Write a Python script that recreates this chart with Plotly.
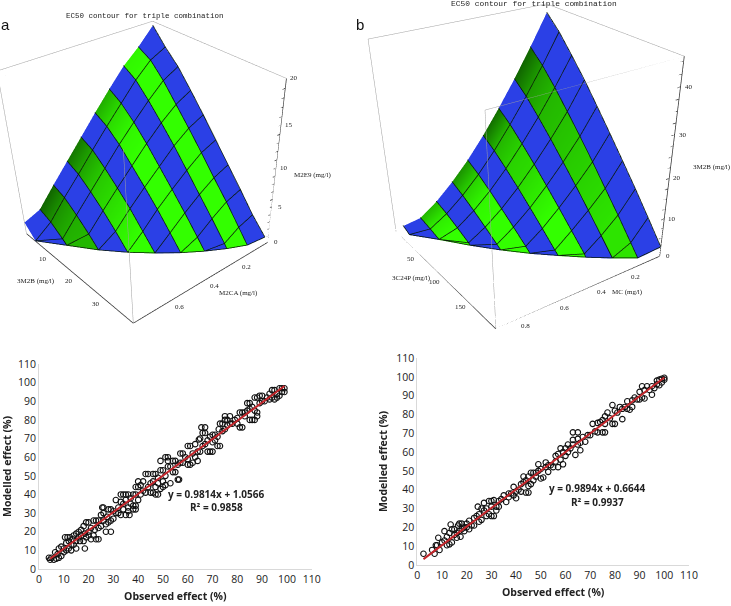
import plotly.graph_objects as go

W, H = 731, 606
BLUE = "#2b40e6"
GREEN_DARK = "#0b4a00"
GREEN = "#33ff00"
BOX = "#a0a0a0"
AXIS = "#333333"

a_x_levels = [0, 0.0889, 0.1778, 0.2667, 0.3556, 0.4444, 0.5333, 0.6222, 0.7111, 0.8]
a_y_levels = [0, 4.33, 8.67, 13, 17.33, 21.67, 26, 30.33, 34.67, 39]
a_arc_y = [39, 37.7, 35.5, 32.8, 29.6, 25.8, 21.5, 16.4, 10.2, 4]
a_z = [
    [19.5, 17.6, 16.0, 13.9, 11.7, 9.4, 7.1, 4.8, 2.4, 0.4],
    [17.6, 16.7, 15.0, 12.9, 10.8, 8.6, 6.3, 4.1, 1.7, 0],
    [16.0, 15.0, 13.3, 11.4, 9.4, 7.2, 5.0, 2.8, 0.5, 0],
    [13.9, 12.9, 11.4, 9.6, 7.6, 5.6, 3.5, 1.3, 0, 0],
    [11.7, 10.8, 9.4, 7.6, 5.8, 3.9, 1.8, 0, 0, 0],
    [9.4, 8.6, 7.2, 5.6, 3.9, 1.9, 0, 0, 0, 0],
    [7.1, 6.3, 5.0, 3.5, 1.8, 0, 0, 0, 0, 0],
    [4.8, 4.1, 2.8, 1.3, 0, 0, 0, 0, 0, 0],
    [2.4, 1.7, 0.5, 0, 0, 0, 0, 0, 0, 0],
    [1.6, 0, 0, 0, 0, 0, 0, 0, 0, 0],
]
a_shade = {
    1: [0.95, 1, 1, 1, 1, 1, 1, 1, 1, 1],
    3: [0.55, 0.8, 0.95, 1, 1, 1, 1, 1, 1, 1],
    5: [0.25, 0.5, 0.7, 0.8, 0.9, 1, 1, 1, 1, 1],
    7: [0.15, 0.4, 0.55, 0.6, 0.6, 0.6, 0.6, 0.6, 0.6, 0.6],
}
a_x_ticks, a_y_ticks, a_z_ticks = [0.2, 0.4, 0.6], [10, 20, 30], [0, 5, 10, 15, 20]
b_x_levels = [0, 0.0956, 0.1911, 0.2867, 0.3822, 0.4778, 0.5733, 0.6689, 0.7644, 0.86]
b_y_levels = [0, 22.2, 44.4, 66.7, 88.9, 111.1, 133.3, 155.6, 177.8, 200]
b_arc_y = [200, 190, 175, 158, 139, 119, 96, 70, 41, 14]
b_z = [
    [44, 40.7, 36.6, 32.3, 27.6, 22.8, 17.9, 12.9, 7.7, 2.4],
    [36.9, 33.8, 30, 25.8, 21.5, 17, 12.3, 7.6, 2.7, 0],
    [30.2, 27.4, 23.9, 20.2, 16.3, 12.3, 8.1, 3.8, 0, 0],
    [24, 21.5, 18.4, 15.1, 11.6, 8, 4.3, 0.6, 0, 0],
    [18.2, 16, 13.3, 10.4, 7.3, 4.1, 0.8, 0, 0, 0],
    [13, 11.1, 8.8, 6.3, 3.7, 1, 0, 0, 0, 0],
    [8.5, 6.9, 5, 2.9, 0.7, 0, 0, 0, 0, 0],
    [4.6, 3.4, 1.9, 0.3, 0, 0, 0, 0, 0, 0],
    [1.6, 0.8, 0, 0, 0, 0, 0, 0, 0, 0],
    [1, 0, 0, 0, 0, 0, 0, 0, 0, 0],
]
b_shade = {
    1: [0.15, 0.45, 0.6, 0.65, 0.7, 0.75, 0.8, 0.85, 0.85, 0.85],
    3: [0.2, 0.6, 0.75, 0.8, 0.9, 1, 1, 1, 1, 1],
    5: [0.4, 0.75, 0.95, 1, 1, 1, 1, 1, 1, 1],
    7: [0.6, 0.9, 1, 1, 1, 1, 1, 1, 1, 1],
}
b_x_ticks, b_y_ticks, b_z_ticks = [0.2, 0.4, 0.6, 0.8], [50, 100, 150], [0, 10, 20, 30, 40]
tick_vals = list(range(0, 111, 10))
a_points = [
    (4,6),(4.5,5),(5,6),(6,5),(6.5,9),(7,5.5),(7.5,8),(8,6),(8,11),(9,7),(9,12),(10,11),(10,9),
    (10.5,17),(11,10),(11,14),(11.5,17),(12,15),(12,11),(12.5,17),(13,10),(13,13),(13.5,16),(14,18),(14,13),
    (15,11),(15,15),(15,19),(16,20),(16,17),(16.5,15),(17,18),(17,21),(18,15),(18,23),(18.5,11),(18.5,19),
    (19,25),(19,17),(20,25),(20,20),(20,18),(21,22),(21,16),(22,26),(22,18),(22.5,21),(23,26),(23,16),
    (24,22),(24,26),(24,16),(25,29),(25,23),(25.5,33),(26,33),(26,26),(26,30),(27,20),(27,24),(27.5,28),
    (28,25),(28,32),(29,20),(29,26),(29,32),(30,27),(30,31),(31,37),(31,30),(32,33),(32,30),(33,36),(33,40),
    (33,29),(34,40),(34,35),(34,32),(35,29),(35,37),(35,40),(36,40),(36,33),(36,31),(36.5,29),(37,38),(37,35),
    (38,34),(38,40),(38,32),(39,40),(39,34),(39,44),(39,32),(40,37),(40,44),(40,47),(41,40),(41,45),(42,47),
    (42,42),(43,51),(43,41),(44,51),(44,44),(45,41),(45,46),(46,51),(46,47),(46,41),(47,51),(47,40),(47,44),
    (48,40),(48,46),(48,49),(49,43),(49,53),(49,58),(50,44),(50,53),(50,47),(51,60),(51,50),(51,45),(52,60),
    (52,58),(52,55),(53,55),(53,46),(54,58),(54,52),(55,58),(55,52),(56,48),(56.5,48),(56,56),(57,62),(57,57),
    (58,62),(58,57),(59,60),(60,56),(60,66),(60,59),(61,66),(61,56),(62,62),(62,57),(63,67),(63,60),(64,58),
    (64,63),(64.5,69.5),(65,70),(65,63),(65.5,76),(66,66),(66,73),(67,76),(67,73),(67,67),(68,63),(68,69),
    (69,63),(69,71),(70,72),(70,63),(70,68),(71,72),(71,69),(72,66),(72,71),(72.5,75),(73,66),(73,78),(74,78),
    (74,74),(75,75),(75,82),(75,80),(76,80),(76,77),(77,82),(77,78),(78,78),(79,80),(80,81),(80,78),(81,84),
    (81,76),(82,76),(82,84),(83,84),(83,82),(84,89),(84,85),(85,89),(85,80),(85,86),(86,80),(86,87),(87,92),
    (87,80),(87,85),(88,82),(88,92),(88,84),(89,93),(89,89),(90,93),(90,90),(91,90),(92,92),(93,94),(93,91),
    (94,96),(94,92),(95,96),(95,91),(96,94),(96,92),(97,97),(97,93),(98,97),(98,95),(99,97),(99,95),
]
b_points = [
    (2.5,6),(6,8),(7,6),(7.5,10.5),(8,10.5),(8.5,14.5),(9,8),(10,12),(11,13),(11,18),(12,10.5),(12,15),(13,17),
    (13,11),(13.5,21.5),(14,12),(14,19),(15,16),(15,19),(16,14.5),(16,17),(16.5,21),(17,22),(17,18),(17.5,15),
    (18,22),(18,19),(19,20),(19,18),(20,22),(20,20),(21,19),(21,23.5),(22,21),(23,21),(23,25),(24,26),(24.5,31),
    (25,27),(25,23),(26,30),(26,24),(27,33),(27,29),(28,30),(28,26),(29,34),(29,27),(30,34),(30,31),(30,26),
    (31,34.5),(31,26),(32,31),(32,29),(33,34),(33,31),(34,35),(35,37),(36,33.5),(37,38),(37,36),(38,38),(39,41.5),
    (39,37),(40,35.5),(40,39),(41,40),(42,43),(42,39),(43,47),(43,44),(44,45),(44,38.5),(45,38.5),(45,42),(45,47),
    (46,49),(46,43),(47,49),(47,45),(48,49),(48,47),(49,53.5),(49,50),(50,46),(50,51),(51,46.5),(52,54.5),(52,52),
    (53,49.5),(53,53),(54,53),(55,52),(56,58),(56,55),(57,59),(57,52),(58,62),(58,56),(59,53.5),(59,60),(60,62),
    (60,58),(61,64),(61,60),(62,62),(63,70.5),(63,66.5),(63,64),(64,58.5),(65,70.5),(65,67),(65,64),(66,61),(66,65),
    (67,68),(68,65.5),(69,69),(70,69),(71,75),(72,71),(73,75.5),(73,70.5),(74,76),(75,70.5),(75,77),(76,70.5),(76,75),
    (76,79),(77,81),(78,78),(79,85),(79,75),(80,75),(80,82),(81,81),(82,84),(83,77.5),(83,83),(84,84),(85,83),(85,87),
    (86,82.5),(87,87.5),(87,84),(88,89),(89,88),(90,92),(90,88),(91,95),(91,89),(92,93),(92,88.5),(93,95),(94,93),
    (95,90.5),(95,95),(96,94),(97,98),(97,96),(98,95.5),(98,98.5),(99,97),(99,99),(100,98.5),(100,99.5),
]
a_trend_x, a_trend_y = [4.5, 99], [5.5, 98.2]
b_trend_x, b_trend_y = [2.5, 100], [3.1, 99.6]

fig = go.Figure()


def add_surface(scene, xs, ys, arc, zz, shade, lift):
    grid_y = [[min(y, arc[i]) for y in ys] for i in range(len(xs))]
    for band in range(len(xs) - 1):
        is_green = band in shade
        col = shade[band] if is_green else [0] * len(ys)
        fig.add_trace(go.Surface(
            scene=scene,
            x=[[xs[band]] * len(ys), [xs[band + 1]] * len(ys)],
            y=[grid_y[band], grid_y[band + 1]],
            z=[zz[band], zz[band + 1]],
            surfacecolor=[col, col], cmin=0, cmax=1,
            colorscale=[[0, GREEN_DARK], [1, GREEN]] if is_green else [[0, BLUE], [1, BLUE]],
            showscale=False, hoverinfo="skip",
            lighting=dict(ambient=1, diffuse=0, specular=0, fresnel=0, roughness=1),
        ))
    lx, ly, lz = [], [], []
    for i in range(len(xs)):
        lx += [xs[i]] * len(ys) + [None]
        ly += grid_y[i] + [None]
        lz += [v + lift for v in zz[i]] + [None]
    for j in range(1, len(ys)):
        for i in range(len(xs)):
            lx.append(xs[i]); ly.append(grid_y[i][j]); lz.append(zz[i][j] + lift)
        lx.append(None); ly.append(None); lz.append(None)
    fig.add_trace(go.Scatter3d(scene=scene, x=lx, y=ly, z=lz, mode="lines",
                               line=dict(color="#0a1a0a", width=1.5), hoverinfo="skip", showlegend=False))


def segs(scene, pairs, color, width):
    lx, ly, lz = [], [], []
    for p, q in pairs:
        lx += [p[0], q[0], None]
        ly += [p[1], q[1], None]
        lz += [p[2], q[2], None]
    fig.add_trace(go.Scatter3d(scene=scene, x=lx, y=ly, z=lz, mode="lines",
                               line=dict(color=color, width=width), hoverinfo="skip", showlegend=False))


def add_box(scene, X, Y, Z, xminor, yminor, zminor):
    segs(scene, [((0, 0, Z), (X, 0, Z)), ((0, 0, Z), (0, Y, Z)), ((X, Y, Z), (X, 0, Z)), ((X, Y, Z), (0, Y, Z)),
                 ((X, 0, 0), (X, 0, Z)), ((X, Y, 0), (X, Y, Z))], BOX, 1)
    axes = [((X, 0, 0), (X, Y, 0)), ((0, Y, 0), (X, Y, 0)), ((0, Y, 0), (0, Y, Z))]
    i = 1
    while i * xminor < X:
        v = i * xminor
        axes.append(((v, Y, 0), (v, Y * 1.02, 0)))
        i += 1
    i = 1
    while i * yminor < Y:
        v = i * yminor
        axes.append(((X, v, 0), (X * 1.02, v, 0)))
        i += 1
    i = 1
    while i * zminor < Z:
        v = i * zminor
        axes.append(((0, Y, v), (X * 0.02, Y, v)))
        i += 1
    segs(scene, axes, AXIS, 1.5)


add_surface("scene", a_x_levels, a_y_levels, a_arc_y, a_z, a_shade, 0.08)
add_box("scene", 0.8, 40, 20, 0.05, 2.5, 1)
add_surface("scene2", b_x_levels, b_y_levels, b_arc_y, b_z, b_shade, 0.18)
add_box("scene2", 0.9, 200, 46, 0.05, 12.5, 2.5)


def add_scatter(points, tx, ty, xa, ya):
    fig.add_trace(go.Scatter(x=[p[0] for p in points], y=[p[1] for p in points], xaxis=xa, yaxis=ya,
                             mode="markers", showlegend=False,
                             marker=dict(symbol="circle-open", size=5.5, color="#111", line=dict(width=1.1))))
    fig.add_trace(go.Scatter(x=tx, y=ty, xaxis=xa, yaxis=ya, mode="lines", showlegend=False,
                             line=dict(color="#c4262b", width=2)))


add_scatter(a_points, a_trend_x, a_trend_y, "x", "y")
add_scatter(b_points, b_trend_x, b_trend_y, "x2", "y2")


def axis3d(rng):
    return dict(range=rng, title=dict(text=""), showgrid=False, zeroline=False, showbackground=False,
                showline=False, ticks="", showticklabels=False, showspikes=False)


def tick_notes(X, Y, xt, yt, zt):
    font = dict(family="Liberation Serif", size=7, color="#222")
    out = []
    for v in xt:
        out.append(dict(x=v, y=Y, z=0, text=str(v), showarrow=False, xshift=9, yshift=-6, font=font))
    for v in yt:
        out.append(dict(x=X, y=v, z=0, text=str(v), showarrow=False, xshift=-7, yshift=-6, font=font))
    for v in zt:
        out.append(dict(x=0, y=Y, z=v, text=str(v), showarrow=False, xshift=8, yshift=0, font=font))
    return out


def scene(dom, eye, center, up, xa, ya, za, aspect_z, notes):
    return dict(domain=dict(x=[dom[0] / W, dom[1] / W], y=[1 - dom[3] / H, 1 - dom[2] / H]),
                bgcolor="rgba(0,0,0,0)", xaxis=xa, yaxis=ya, zaxis=za, annotations=notes,
                aspectmode="manual", aspectratio=dict(x=1, y=1, z=aspect_z),
                camera=dict(projection=dict(type="perspective"),
                            eye=dict(x=eye[0], y=eye[1], z=eye[2]),
                            center=dict(x=center[0], y=center[1], z=center[2]),
                            up=dict(x=up[0], y=up[1], z=up[2])))


def axis2d(dom, span, anchor, title, standoff):
    return dict(domain=[dom[0] / span, dom[1] / span], range=[0, 110], tickvals=tick_vals, anchor=anchor,
                automargin=False, showgrid=False, zeroline=False, showline=True, linecolor="#d9d9d9", linewidth=1, ticks="",
                tickfont=dict(family="Open Sans", size=10.5, color="#222"),
                title=dict(text=title, standoff=standoff, font=dict(family="Open Sans", size=10.5, color="#222")))


def bold(s):
    return "<b>" + s + "</b>"


layout = dict(
    width=W, height=H, margin=dict(l=0, r=0, t=0, b=0, pad=0), paper_bgcolor="white", plot_bgcolor="white", showlegend=False,
    scene=scene((0, 350, 0, 559), (1.952, 2.453, 1.906), (0.117, 0.386, -0.503), (0.02, -0.016, 1),
                axis3d([0, 0.8]), axis3d([0, 40]), axis3d([0, 20]), 1.0,
                tick_notes(0.8, 40, a_x_ticks, a_y_ticks, a_z_ticks)),
    scene2=scene((350, 731, 0, 581), (1.739, 2.578, 1.515), (0.129, 0.325, -0.568), (0.017, -0.011, 1),
                 axis3d([0, 0.9]), axis3d([0, 200]), axis3d([0, 46]), 1.03,
                 tick_notes(0.9, 200, b_x_ticks, b_y_ticks, b_z_ticks)),
    xaxis=axis2d((39, 311.7), W, "y", bold("Observed effect (%)"), 8),
    yaxis=axis2d((H - 569, H - 364), H, "x", bold("Modelled effect (%)"), 6),
    xaxis2=axis2d((417.3, 689), W, "y2", bold("Observed effect (%)"), 8),
    yaxis2=axis2d((H - 565, H - 358), H, "x2", bold("Modelled effect (%)"), 6),
)
fig.update_layout(**layout)
fig.update_xaxes(tickprefix="<b>", ticksuffix="</b>")
fig.update_yaxes(tickprefix="<b>", ticksuffix="</b>")


def note(text, x, y, family="Liberation Serif", size=7, color="#222", anchor="center"):
    fig.add_annotation(xref="paper", yref="paper", x=x / W, y=1 - y / H, text=text, showarrow=False,
                       xanchor=anchor, yanchor="middle", font=dict(family=family, size=size, color=color))


note("EC50 contour for triple combination", 145, 16, "Liberation Mono", 7.5)
note("EC50 contour for triple combination", 534, 4, "Liberation Mono", 7.9)
note("a", 5, 24, "Liberation Sans", 15, "#111")
note("b", 360, 24, "Liberation Sans", 15, "#111")
note("M2E9 (mg/l)", 312, 175)
note("3M2B (mg/l)", 36, 281)
note("M2CA (mg/l)", 238, 293)
note("3M2B (mg/l)", 712, 167)
note("3C24P (mg/l)", 411, 278)
note("MC (mg/l)", 627, 292)
note(bold("y = 0.9814x + 1.0566"), 216, 494, "Open Sans", 10)
note(bold("R² = 0.9858"), 216, 507, "Open Sans", 10)
note(bold("y = 0.9894x + 0.6644"), 597, 488, "Open Sans", 10)
note(bold("R² = 0.9937"), 597, 502, "Open Sans", 10)

fig.write_html("out.html", config={"displayModeBar": False},
               post_script="document.body.style.margin='0';document.documentElement.style.overflow='hidden';")
